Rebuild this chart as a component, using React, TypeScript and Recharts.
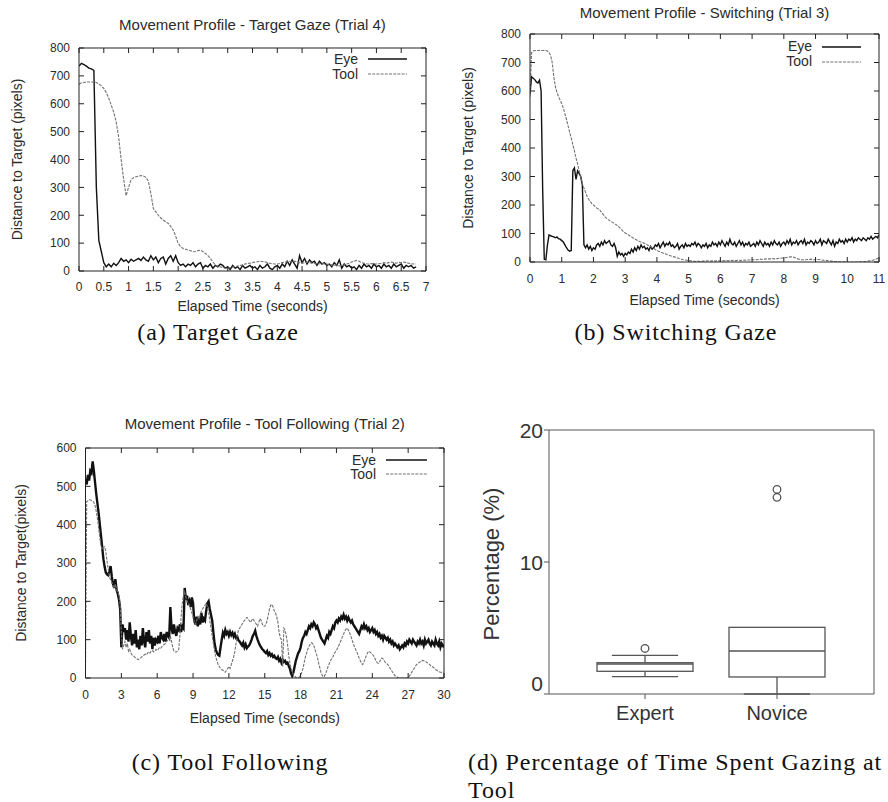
import React from 'react';
import { LineChart, Line, XAxis, YAxis, ReferenceLine, Legend, Label, ComposedChart, Bar } from 'recharts';

const SANS = "'Liberation Sans', Arial, Helvetica, sans-serif";
const SERIF = "'Liberation Serif', 'Times New Roman', serif";
const INK = '#2b2b2b';
const AXIS = '#222';
const EYE_COLOR = '#111';
const TOOL_COLOR = '#727272';
const BOX_COLOR = '#555';

// (a) Target Gaze, one sample every 0.05 s
const STEP_A = 0.05;
const eyeA = [
  735, 745, 740, 735, 728, 725, 720, 300, 110, 70,
  30, 15, 25, 15, 28, 20, 30, 45, 35, 40,
  30, 42, 35, 40, 45, 38, 50, 40, 35, 55,
  40, 50, 30, 45, 50, 25, 45, 55, 35, 55,
  30, 20, 25, 15, 25, 20, 30, 15, 25, 30,
  10, 20, 15, 25, 10, 20, 15, 25, 20, 10,
  15, 5, 20, 10, 15, 5, 20, 10, 15, 20,
  10, 15, 5, 20, 10, 15, 25, 10, 5, 15,
  20, 10, 25, 15, 35, 20, 40, 25, 10, 55,
  30, 45, 25, 40, 30, 35, 20, 35, 25, 30,
  20, 25, 15, 30, 20, 40, 10, 25, 15, 20,
  10, 15, 5, 20, 10, 25, 15, 20, 10, 25,
  15, 20, 10, 25, 15, 20, 10, 25, 15, 20,
  25, 10, 20, 15, 20, 10, 15,
];
const toolA = [
  670, 675, 676, 678, 678, 678, 678, 676, 670, 665,
  655, 640, 620, 595, 570, 535, 480, 400, 330, 270,
  300, 328, 335, 338, 340, 342, 341, 336, 322, 278,
  224, 212, 200, 190, 183, 176, 171, 160, 147, 125,
  99, 88, 81, 78, 75, 73, 69, 70, 73, 75,
  70, 63, 55, 45, 33, 21, 17, 15, 12, 10,
  10, 12, 14, 15, 18, 20, 22, 25, 27, 28,
  30, 32, 33, 35, 34, 33, 30, 28, 26, 25,
  25, 27, 30, 32, 33, 35, 33, 35, 34, 30,
  28, 30, 32, 30, 28, 27, 25, 26, 28, 25,
  25, 23, 22, 20, 22, 18, 20, 22, 25, 28,
  32, 35, 38, 35, 30, 28, 26, 25, 27, 25,
  25, 27, 28, 30, 28, 30, 32, 30, 28, 30,
  30, 32, 30, 28, 26, 25, 25,
];
const xTicksA = [0, 0.5, 1, 1.5, 2, 2.5, 3, 3.5, 4, 4.5, 5, 5.5, 6, 6.5, 7];
const yTicksA = [0, 100, 200, 300, 400, 500, 600, 700, 800];

// (b) Switching, one sample every 0.05 s
const STEP_B = 0.05;
const eyeB = [
  590, 650, 645, 640, 632, 628, 638, 600, 250, 10,
  8, 60, 95, 92, 90, 88, 85, 88, 82, 80,
  75, 70, 60, 50, 42, 38, 40, 320, 330, 290,
  320, 310, 300, 270, 60, 50, 60, 45, 55, 40,
  50, 45, 60, 65, 55, 70, 60, 75, 65, 70,
  75, 60, 55, 65, 50, 20, 35, 25, 30, 20,
  30, 25, 35, 30, 45, 35, 50, 40, 55, 45,
  60, 50, 55, 45, 50, 40, 55, 45, 50, 60,
  55, 65, 50, 60, 70, 55, 65, 60, 70, 55,
  60, 50, 55, 65, 45, 55, 60, 50, 65, 55,
  60, 55, 65, 60, 70, 55, 65, 60, 50, 60,
  55, 65, 50, 60, 55, 70, 60, 65, 55, 70,
  60, 75, 65, 55, 70, 60, 80, 65, 60, 70,
  55, 65, 75, 60, 70, 55, 65, 60, 70, 55,
  60, 65, 55, 70, 60, 75, 65, 55, 70, 60,
  65, 55, 70, 60, 75, 65, 60, 70, 55, 65,
  70, 60, 75, 65, 80, 60, 70, 65, 75, 60,
  70, 75, 65, 80, 60, 70, 65, 75, 70, 60,
  75, 65, 70, 80, 60, 75, 70, 65, 80, 70,
  60, 75, 55, 70, 65, 80, 70, 75, 65, 80,
  70, 80, 75, 85, 70, 80, 75, 85, 80, 75,
  85, 80, 75, 85, 80, 90, 80, 85, 90, 85,
  95,
];
const toolB = [
  580, 735, 740, 742, 742, 742, 742, 742, 742, 742,
  742, 740, 735, 725, 700, 650, 615, 595, 580, 568,
  555, 540, 520, 500, 478, 455, 435, 412, 390, 365,
  345, 320, 295, 275, 260, 245, 230, 220, 212, 205,
  200, 195, 190, 186, 182, 175, 168, 160, 155, 150,
  146, 142, 139, 136, 132, 128, 123, 118, 112, 106,
  102, 99, 95, 91, 88, 84, 81, 78, 75, 72,
  70, 68, 66, 63, 60, 57, 54, 50, 47, 44,
  41, 38, 36, 33, 31, 29, 27, 25, 23, 21,
  19, 18, 16, 14, 12, 11, 9, 8, 7, 6,
  5, 4, 3, 3, 2, 3, 3, 2, 2, 3,
  3, 3, 4, 3, 3, 4, 4, 3, 4, 4,
  4, 5, 4, 5, 5, 4, 5, 6, 5, 5,
  5, 6, 6, 5, 6, 7, 6, 7, 7, 8,
  8, 8, 9, 8, 9, 10, 9, 10, 10, 11,
  10, 11, 11, 12, 11, 12, 12, 13, 13, 14,
  14, 15, 16, 17, 18, 18, 17, 15, 13, 11,
  9, 8, 8, 7, 8, 9, 8, 10, 9, 8,
  9, 10, 9, 8, 7, 6, 5, 5, 4, 3,
  3, 2, 2, 2, 1, 1, 1, 1, 1, 1,
  0, 0, 0, 0, 0, 0, 0, 0, 1, 1,
  1, 2, 2, 3, 4, 5, 6, 8, 10, 12,
  15,
];
const xTicksB = [0, 1, 2, 3, 4, 5, 6, 7, 8, 9, 10, 11];
const yTicksB = [0, 100, 200, 300, 400, 500, 600, 700, 800];

// (c) Tool Following, one sample every 0.1 s
const STEP_C = 0.1;
const eyeC = [
  520, 505, 530, 515, 540, 535, 565, 540, 510, 480,
  455, 430, 400, 370, 340, 310, 290, 275, 270, 268,
  280, 292, 265, 245, 235, 258, 230, 220, 205, 180,
  80, 140, 120, 130, 100, 125, 95, 145, 110, 85,
  115, 90, 125, 80, 100, 75, 110, 85, 130, 95,
  80, 120, 95, 125, 90, 110, 75, 105, 85, 100,
  95, 110, 90, 120, 105, 100, 115, 95, 120, 110,
  105, 185, 130, 115, 140, 120, 110, 130, 125, 140,
  120, 135, 130, 235, 205, 215, 190, 200, 185, 210,
  195, 150, 140, 160, 135, 150, 140, 170, 145, 155,
  150, 175, 195, 200, 180, 165, 150, 120, 90, 75,
  65, 60, 58, 80, 100, 118, 110, 125, 115, 120,
  110, 120, 112, 118, 108, 115, 105, 108, 98, 95,
  90, 85, 92, 80, 88, 78, 82, 85, 92, 100,
  110, 115, 123, 110, 100, 92, 85, 80, 75, 72,
  68, 65, 70, 60, 65, 58, 62, 55, 58, 52,
  50, 55, 45, 50, 40, 48, 42, 45, 38, 40,
  32, 25, 12, 5, 15, 30, 45, 55, 65, 70,
  80, 95, 105, 110, 120, 115, 125, 135, 130, 140,
  135, 145, 140, 130, 135, 125, 115, 105, 100, 95,
  90, 100, 110, 105, 120, 115, 125, 135, 130, 145,
  150, 145, 155, 150, 160, 155, 165, 155, 160, 150,
  158, 150, 145, 150, 140, 135, 130, 125, 120, 115,
  125, 135, 130, 140, 130, 135, 125, 130, 120, 125,
  130, 120, 125, 115, 120, 110, 115, 105, 110, 100,
  110, 105, 100, 105, 95, 100, 90, 95, 85, 90,
  85, 80, 85, 75, 80, 85, 80, 90, 85, 95,
  90, 100, 95, 90, 100, 95, 90, 85, 95, 90,
  100, 90, 95, 85, 100, 90, 95, 100, 90, 85,
  95, 90, 85, 100, 90, 85, 95, 80, 90, 85,
  80,
];
const toolC = [
  30, 460, 462, 465, 465, 463, 462, 458, 450, 435,
  415, 390, 365, 345, 335, 340, 342, 330, 305, 285,
  265, 255, 250, 240, 235, 245, 230, 225, 215, 190,
  120, 75, 85, 95, 80, 90, 70, 75, 65, 60,
  58, 55, 52, 50, 48, 50, 52, 55, 58, 60,
  62, 60, 65, 68, 65, 70, 72, 68, 70, 75,
  72, 75, 80, 78, 82, 85, 88, 90, 95, 100,
  100, 110, 95, 80, 70, 68, 68, 70, 75, 110,
  160, 195, 215, 225, 210, 200, 195, 190, 180, 170,
  160, 145, 140, 150, 160, 155, 165, 175, 180, 185,
  190, 195, 185, 170, 150, 130, 110, 90, 70, 55,
  45, 35, 30, 25, 22, 20, 18, 15, 20, 25,
  30, 25, 35, 45, 55, 70, 90, 110, 125, 130,
  135, 140, 145, 150, 155, 158, 155, 150, 145, 150,
  155, 150, 145, 140, 135, 145, 155, 150, 140, 135,
  135, 140, 150, 165, 180, 190, 192, 185, 175, 170,
  160, 145, 120, 105, 100, 30, 130, 125, 110, 90,
  60, 40, 25, 15, 8, 5, 2, 0, 0, 3,
  8, 15, 25, 40, 55, 65, 75, 82, 88, 92,
  90, 85, 75, 65, 55, 40, 28, 15, 8, 3,
  5, 12, 20, 30, 38, 45, 50, 55, 62, 68,
  72, 78, 85, 92, 100, 108, 115, 122, 128, 130,
  125, 118, 110, 100, 90, 82, 75, 68, 60, 52,
  45, 38, 35, 42, 50, 58, 65, 70, 68, 65,
  62, 58, 52, 45, 40, 38, 42, 48, 52, 50,
  45, 40, 38, 35, 30, 25, 20, 15, 10, 6,
  5, 2, 0, 0, 0, 0, 0, 0, 0, 0,
  2, 5, 10, 15, 20, 25, 30, 35, 38, 40,
  42, 45, 46, 45, 44, 42, 40, 38, 35, 32,
  30, 28, 25, 22, 20, 18, 16, 15, 14, 15,
  15,
];
const xTicksC = [0, 3, 6, 9, 12, 15, 18, 21, 24, 27, 30];
const yTicksC = [0, 100, 200, 300, 400, 500, 600];

// (d) box plot of time spent gazing at the tool
const groups = ['Expert', 'Novice'];
const whiskerLow = [1.31, 0];
const q1 = [1.72, 1.29];
const median = [2.27, 3.26];
const q3 = [2.37, 5.05];
const whiskerHigh = [2.93, 5.05];
const outliers = [[3.45], [15.5, 14.9]];
const pctTicks = [0, 10, 20];

const YW = 40;
const XH = 26;

const buildRows = (step: number, eye: number[], tool: number[]) =>
  eye.map((v, i) => ({ t: Math.round(i * step * 100) / 100, eye: v, tool: tool[i] }));

const boxRows = groups.map((name, i) => ({
  name,
  lo: whiskerLow[i],
  q1: q1[i],
  med: median[i],
  q3: q3[i],
  hi: whiskerHigh[i],
  out: outliers[i],
  span: [Math.min(whiskerLow[i], ...outliers[i]), Math.max(whiskerHigh[i], ...outliers[i])],
}));

type Panel = {
  left: number;
  top: number;
  width: number;
  height: number;
  margin: { top: number; right: number; bottom: number; left: number };
  rows: { t: number; eye: number; tool: number }[];
  xMax: number;
  yMax: number;
  xTicks: number[];
  yTicks: number[];
  title: string;
  titleY: number;
  yLabel: string;
  yLabelGap: number;
  xLabelGap: number;
  xTickDy: number;
  legendTop: number;
  legendRight: number;
  legendRow: number;
  sampleW: number;
  eyeWidth: number;
};

const panels: Panel[] = [
  {
    left: 0, top: 0, width: 444, height: 330,
    margin: { top: 48, right: 18, bottom: 33, left: 39 },
    rows: buildRows(STEP_A, eyeA, toolA),
    xMax: 7, yMax: 800, xTicks: xTicksA, yTicks: yTicksA,
    title: 'Movement Profile - Target Gaze (Trial 4)', titleY: 25,
    yLabel: 'Distance to Target (pixels)', yLabelGap: 62, xLabelGap: 35, xTickDy: 20,
    legendTop: 52, legendRight: 37, legendRow: 14.7, sampleW: 39, eyeWidth: 1.4,
  },
  {
    left: 444, top: 0, width: 444, height: 330,
    margin: { top: 34, right: 9, bottom: 42, left: 46 },
    rows: buildRows(STEP_B, eyeB, toolB),
    xMax: 11, yMax: 800, xTicks: xTicksB, yTicks: yTicksB,
    title: 'Movement Profile - Switching (Trial 3)', titleY: 13,
    yLabel: 'Distance to Target (pixels)', yLabelGap: 62, xLabelGap: 38, xTickDy: 20.5,
    legendTop: 39, legendRight: 27, legendRow: 15, sampleW: 39, eyeWidth: 1.4,
  },
  {
    left: 0, top: 380, width: 454, height: 380,
    margin: { top: 68, right: 10, bottom: 56, left: 45.5 },
    rows: buildRows(STEP_C, eyeC, toolC),
    xMax: 30, yMax: 600, xTicks: xTicksC, yTicks: yTicksC,
    title: 'Movement Profile - Tool Following (Trial 2)', titleY: 44,
    yLabel: 'Distance to Target(pixels)', yLabelGap: 65, xLabelGap: 40, xTickDy: 21,
    legendTop: 73, legendRight: 27, legendRow: 14.3, sampleW: 41, eyeWidth: 2.4,
  },
];

const ProfileChart = ({ p }: { p: Panel }) => {
  const plotW = p.width - p.margin.left - p.margin.right - YW;
  const plotH = p.height - p.margin.top - p.margin.bottom - XH;
  const plotLeft = p.margin.left + YW;

  const xTick = (props: any) => {
    const { x, y, payload } = props;
    return (
      <g>
        <line x1={x} x2={x} y1={y} y2={y - 5} stroke={AXIS} />
        <line x1={x} x2={x} y1={y - plotH} y2={y - plotH + 5} stroke={AXIS} />
        <text x={x} y={y + p.xTickDy} textAnchor="middle" fontFamily={SANS} fontSize={12} fill={INK}>
          {String(payload.value)}
        </text>
      </g>
    );
  };

  const yTick = (props: any) => {
    const { x, y, payload } = props;
    return (
      <g>
        <line x1={x} x2={x + 5} y1={y} y2={y} stroke={AXIS} />
        <line x1={x + plotW} x2={x + plotW - 5} y1={y} y2={y} stroke={AXIS} />
        <text x={x - 9} y={y} dy="0.36em" textAnchor="end" fontFamily={SANS} fontSize={12} fill={INK}>
          {payload.value}
        </text>
      </g>
    );
  };

  const legendContent = (props: any) => (
    <div style={{ fontFamily: SANS, fontSize: 14, color: INK, lineHeight: `${p.legendRow}px` }}>
      {(props.payload || []).map((entry: any) => (
        <div key={entry.value} style={{ display: 'flex', justifyContent: 'flex-end', alignItems: 'center' }}>
          <span>{entry.value}</span>
          <svg width={p.sampleW} height={6} style={{ marginLeft: 10 }}>
            <line
              x1={0}
              x2={p.sampleW}
              y1={3}
              y2={3}
              stroke={entry.color}
              strokeWidth={Math.min(entry.payload?.strokeWidth ?? 1, 1.6)}
              strokeDasharray={entry.payload?.strokeDasharray}
            />
          </svg>
        </div>
      ))}
    </div>
  );

  return (
    <div style={{ position: 'absolute', left: p.left, top: p.top, width: p.width, height: p.height }}>
      <div
        style={{
          position: 'absolute',
          left: plotLeft - 20,
          width: plotW + 40,
          top: p.titleY - 9,
          lineHeight: '18px',
          textAlign: 'center',
          fontFamily: SANS,
          fontSize: 15,
          color: INK,
          whiteSpace: 'nowrap',
        }}
      >
        {p.title}
      </div>
      <LineChart width={p.width} height={p.height} data={p.rows} margin={p.margin}>
        <XAxis
          type="number"
          dataKey="t"
          domain={[0, p.xMax]}
          ticks={p.xTicks}
          interval={0}
          height={XH}
          tickLine={false}
          tickSize={0}
          tickMargin={0}
          axisLine={{ stroke: AXIS }}
          tick={xTick}
          allowDataOverflow
        >
          <Label
            content={(lp: any) => {
              const vb = lp.viewBox;
              return (
                <text
                  x={vb.x + vb.width / 2}
                  y={vb.y + p.xLabelGap}
                  dy="0.36em"
                  textAnchor="middle"
                  fontFamily={SANS}
                  fontSize={14}
                  fill={INK}
                >
                  Elapsed Time (seconds)
                </text>
              );
            }}
          />
        </XAxis>
        <YAxis
          type="number"
          domain={[0, p.yMax]}
          ticks={p.yTicks}
          interval={0}
          width={YW}
          tickLine={false}
          tickSize={0}
          tickMargin={0}
          axisLine={{ stroke: AXIS }}
          tick={yTick}
          allowDataOverflow
        >
          <Label
            content={(lp: any) => {
              const vb = lp.viewBox;
              const cx = vb.x + vb.width - p.yLabelGap;
              const cy = vb.y + vb.height / 2;
              return (
                <text
                  x={cx}
                  y={cy}
                  dy="0.36em"
                  textAnchor="middle"
                  transform={`rotate(-90 ${cx} ${cy})`}
                  fontFamily={SANS}
                  fontSize={14}
                  fill={INK}
                >
                  {p.yLabel}
                </text>
              );
            }}
          />
        </YAxis>
        <ReferenceLine y={p.yMax} stroke={AXIS} />
        <ReferenceLine x={p.xMax} stroke={AXIS} />
        <Legend
          layout="vertical"
          align="center"
          verticalAlign="middle"
          wrapperStyle={{ top: p.legendTop, right: p.legendRight, left: 'auto', width: 'auto' }}
          content={legendContent}
        />
        <Line
          name="Eye"
          type="linear"
          dataKey="eye"
          stroke={EYE_COLOR}
          strokeWidth={p.eyeWidth}
          dot={false}
          isAnimationActive={false}
        />
        <Line
          name="Tool"
          type="linear"
          dataKey="tool"
          stroke={TOOL_COLOR}
          strokeWidth={1.1}
          strokeDasharray="3 1.2"
          dot={false}
          isAnimationActive={false}
        />
      </LineChart>
    </div>
  );
};

const BoxShape = (props: any) => {
  const { x, y, width, height, payload } = props;
  const [bottom, top] = payload.span;
  const py = (v: number) => y + ((top - v) / (top - bottom)) * height;
  const cx = x + width / 2;
  const cap = width * 0.345;
  return (
    <g stroke={BOX_COLOR} strokeWidth={1.3} fill="none">
      {payload.hi > payload.q3 && (
        <>
          <line x1={cx} x2={cx} y1={py(payload.hi)} y2={py(payload.q3)} />
          <line x1={cx - cap} x2={cx + cap} y1={py(payload.hi)} y2={py(payload.hi)} />
        </>
      )}
      <line x1={cx} x2={cx} y1={py(payload.q1)} y2={py(payload.lo)} />
      <line x1={cx - cap} x2={cx + cap} y1={py(payload.lo)} y2={py(payload.lo)} />
      <rect x={x} y={py(payload.q3)} width={width} height={py(payload.q1) - py(payload.q3)} fill="#fff" />
      <line x1={x} x2={x + width} y1={py(payload.med)} y2={py(payload.med)} strokeWidth={1.6} />
      {payload.out.map((v: number, i: number) => (
        <circle key={i} cx={cx} cy={py(v)} r={3.8} fill="#fff" />
      ))}
    </g>
  );
};

const groupTick = (props: any) => {
  const { x, y, payload } = props;
  return (
    <text x={x} y={y + 21} textAnchor="middle" fontFamily={SANS} fontSize={20} fill="#333">
      {payload.value}
    </text>
  );
};

const pctTick = (props: any) => {
  const { x, y, payload } = props;
  return (
    <text
      x={x - 1}
      y={payload.value === 0 ? y - 11 : y}
      dy="0.36em"
      textAnchor="end"
      fontFamily={SANS}
      fontSize={21}
      fill="#333"
    >
      {payload.value}
    </text>
  );
};

const BoxChart = () => (
  <div style={{ position: 'absolute', left: 444, top: 380, width: 444, height: 380 }}>
    <ComposedChart width={444} height={380} data={boxRows} margin={{ top: 50, right: 14, bottom: 36, left: 55 }}>
      <XAxis
        dataKey="name"
        padding={{ left: 30, right: 31 }}
        height={30}
        interval={0}
        tickSize={5}
        tickMargin={0}
        stroke={BOX_COLOR}
        tick={groupTick}
      />
      <YAxis
        type="number"
        domain={[0, 20]}
        ticks={pctTicks}
        interval={0}
        width={50}
        tickSize={5}
        tickMargin={0}
        stroke={BOX_COLOR}
        tick={pctTick}
      >
        <Label
          content={(lp: any) => {
            const vb = lp.viewBox;
            const cx = vb.x + vb.width - 58;
            const cy = vb.y + vb.height / 2 + 2;
            return (
              <text
                x={cx}
                y={cy}
                dy="0.36em"
                textAnchor="middle"
                transform={`rotate(-90 ${cx} ${cy})`}
                fontFamily={SANS}
                fontSize={22}
                fill="#333"
              >
                Percentage (%)
              </text>
            );
          }}
        />
      </YAxis>
      <YAxis
        yAxisId="r"
        orientation="right"
        mirror
        width={1}
        domain={[0, 20]}
        tick={false}
        tickLine={false}
        stroke={BOX_COLOR}
      />
      <ReferenceLine y={20} stroke={BOX_COLOR} />
      <Bar dataKey="span" barSize={96} shape={BoxShape} isAnimationActive={false} />
    </ComposedChart>
  </div>
);

const captionStyle: React.CSSProperties = {
  position: 'absolute',
  fontFamily: SERIF,
  fontSize: 24,
  letterSpacing: 0.9,
  lineHeight: '28px',
  color: '#111',
  whiteSpace: 'nowrap',
};

export default function App() {
  return (
    <div
      style={{
        position: 'absolute',
        left: 0,
        top: 0,
        width: 888,
        height: 802,
        overflow: 'hidden',
        background: '#fff',
      }}
    >
      {panels.map((p) => (
        <ProfileChart key={p.title} p={p} />
      ))}
      <BoxChart />
      <div style={{ ...captionStyle, left: 68, width: 300, top: 318, textAlign: 'center' }}>(a) Target Gaze</div>
      <div style={{ ...captionStyle, left: 526, width: 300, top: 318, textAlign: 'center' }}>(b) Switching Gaze</div>
      <div style={{ ...captionStyle, left: 80, width: 300, top: 748, textAlign: 'center' }}>(c) Tool Following</div>
      <div style={{ ...captionStyle, left: 468, top: 748 }}>
        (d) Percentage of Time Spent Gazing at
        <br />
        Tool
      </div>
    </div>
  );
}
